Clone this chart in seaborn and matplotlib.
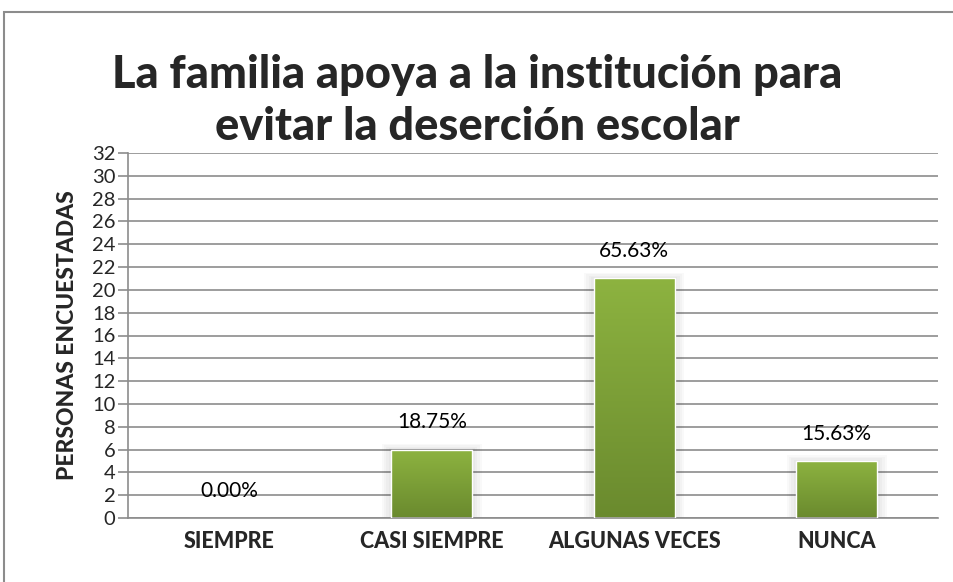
import numpy as np
import seaborn as sns
import matplotlib.pyplot as plt
from matplotlib.colors import LinearSegmentedColormap
from matplotlib.patches import Rectangle

sns.set_style('white')
plt.rcParams['font.family'] = ['Lato', 'DejaVu Sans']

categorias = ['SIEMPRE', 'CASI SIEMPRE', 'ALGUNAS VECES', 'NUNCA']
personas = [0, 6, 21, 5]
porcentajes = ['0.00%', '18.75%', '65.63%', '15.63%']
yticks = list(range(0, 33, 2))

fig = plt.figure(figsize=(9.54, 5.82), dpi=100)
ax = fig.add_axes([128 / 954, 1 - 518 / 582, 810 / 954, 365 / 582])

sns.barplot(x=categorias, y=personas, ax=ax, color='#7d9c36', width=0.40,
            saturation=1)

# gradient fill inside each bar
cmap = LinearSegmentedColormap.from_list('verde', ['#6a8a2e', '#8db340'])
grad = np.linspace(0, 1, 256).reshape(-1, 1)
for bar in ax.patches:
    x0, y0 = bar.get_x(), bar.get_y()
    w, h = bar.get_width(), bar.get_height()
    if h <= 0:
        continue
    # soft shadow
    for k in range(4):
        sh = Rectangle((x0 - 0.012 * (k + 1), y0), w + 0.024 * (k + 1), h + 0.12 * (k + 1),
                       facecolor='black', alpha=0.025, edgecolor='none', zorder=1.5)
        ax.add_patch(sh)
    im = ax.imshow(grad, cmap=cmap, aspect='auto', origin='lower',
                   extent=[x0, x0 + w, y0, y0 + h], zorder=2)
    im.set_clip_path(bar)
    bar.set_facecolor('none')
    bar.set_zorder(3)

for i, (v, txt) in enumerate(zip(personas, porcentajes)):
    ax.text(i, v + 2.4, txt, ha='center', va='center', fontsize=15, color='black')

ax.set_xlim(-0.5, 3.5)
ax.set_ylim(0, 32)
ax.set_yticks(yticks)
ax.set_yticklabels([str(t) for t in yticks], fontsize=14.5)
ax.tick_params(axis='y', length=7, width=1.2, color='#8c8c8c', pad=2, direction='out', left=True)
ax.tick_params(axis='x', length=0, pad=9)
for lbl in ax.get_xticklabels():
    lbl.set_fontweight('black')
    lbl.set_fontsize(15.5)
ax.yaxis.grid(True, color='#8c8c8c', linewidth=1.2)
ax.set_axisbelow(True)
for s in ['top', 'right']:
    ax.spines[s].set_visible(False)
ax.spines['left'].set_color('#8c8c8c')
ax.spines['left'].set_linewidth(1.2)
ax.spines['bottom'].set_color('#8c8c8c')
ax.spines['bottom'].set_linewidth(1.2)

ax.set_ylabel('PERSONAS ENCUESTADAS', fontsize=16.5, fontweight='black', labelpad=10)
ax.set_xlabel('')

fig.text(0.5, 1 - 101 / 582, 'La familia apoya a la institución para\nevitar la deserción escolar',
         ha='center', va='center', fontsize=32.5, fontweight='black', linespacing=1.3)

# chart border
fig.patches.append(Rectangle((4 / 954, -0.01), 1.0, 1 - 12 / 582 + 0.01, transform=fig.transFigure,
                             fill=False, edgecolor='#8c8c8c', linewidth=1.5))

fig.savefig('out.png', dpi=100)
